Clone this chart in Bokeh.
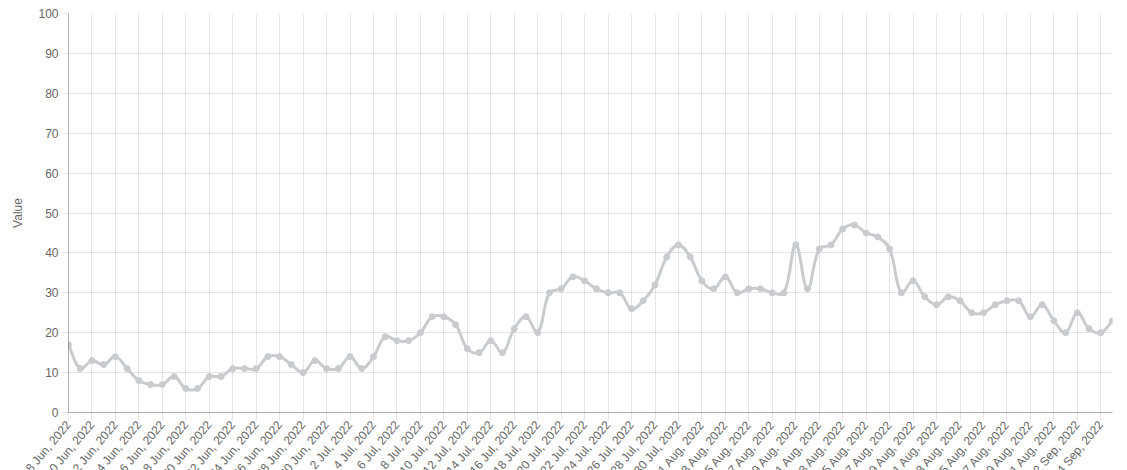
import math
import pandas as pd
from bokeh.plotting import figure
from bokeh.models import ColumnDataSource, FixedTicker, Legend, LegendItem
from bokeh.embed import file_html
from bokeh.resources import INLINE

# ---------------- data ----------------
start_date = "2022-06-08"
fear_greed = [17, 11, 13, 12, 14, 11, 8, 7, 7, 9, 6, 6, 9, 9, 11, 11, 11, 14, 14, 12,
              10, 13, 11, 11, 14, 11, 14, 19, 18, 18, 20, 24, 24, 22, 16, 15, 18, 15, 21, 24,
              20, 30, 31, 34, 33, 31, 30, 30, 26, 28, 32, 39, 42, 39, 33, 31, 34, 30, 31, 31,
              30, 30, 42, 31, 41, 42, 46, 47, 45, 44, 41, 30, 33, 29, 27, 29, 28, 25, 25, 27,
              28, 28, 24, 27, 23, 20, 25, 21, 20, 23]
dates = pd.date_range(start_date, periods=len(fear_greed), freq="D")
date_labels = [f"{d.day} {d.strftime('%b')}, {d.year}" for d in dates]
y_ticks = list(range(0, 101, 10))
series_name = "Crypto Fear & Greed Index"
y_title = "Value"

# ---------------- style ----------------
FONT = "Liberation Sans"
TXT = "#666666"
GRID = "rgba(0,0,0,0.1)"
AXIS = "rgba(0,0,0,0.3)"
LINE = "rgb(201,203,207)"
TENSION = 0.4

n = len(fear_greed)
xs = list(range(n))

p = figure(width=1119, height=489, output_backend="svg", toolbar_location=None, title=None,
           x_range=(0, n - 1), y_range=(0, 100),
           min_border_left=68, min_border_right=7, min_border_top=13, min_border_bottom=20)
p.outline_line_color = None
p.background_fill_color = "white"
p.border_fill_color = "white"

# x axis with rotated date labels
p.xaxis.ticker = FixedTicker(ticks=xs[::2])
p.xaxis.major_label_overrides = {i: date_labels[i] for i in xs}
p.xaxis.major_label_orientation = math.radians(50)
p.xaxis.major_label_text_font = FONT
p.xaxis.major_label_text_font_size = "12px"
p.xaxis.major_label_text_color = TXT
p.xaxis.major_label_standoff = 2
p.xaxis.major_tick_out = 8
p.xaxis.major_tick_in = 0
p.xaxis.major_tick_line_color = GRID
p.xaxis.minor_tick_line_color = None
p.xaxis.axis_line_color = AXIS
p.xgrid.grid_line_color = GRID

# y axis
p.yaxis.ticker = FixedTicker(ticks=y_ticks)
p.yaxis.major_label_text_font = FONT
p.yaxis.major_label_text_font_size = "12px"
p.yaxis.major_label_text_color = TXT
p.yaxis.major_tick_out = 6
p.yaxis.major_tick_in = 0
p.yaxis.major_label_standoff = 4
p.yaxis.major_tick_line_color = GRID
p.yaxis.minor_tick_line_color = None
p.yaxis.axis_line_color = AXIS
p.yaxis.axis_label = y_title
p.yaxis.axis_label_text_font = FONT
p.yaxis.axis_label_text_font_size = "12px"
p.yaxis.axis_label_text_font_style = "normal"
p.yaxis.axis_label_text_color = TXT
p.yaxis.axis_label_standoff = 10
p.ygrid.ticker = FixedTicker(ticks=y_ticks)
p.ygrid.grid_line_color = GRID

# smooth line (Chart.js-like spline, tension 0.4), computed in approx pixel space
SX = 1044 / (n - 1)
SY = 399 / 100
px = [x * SX for x in xs]
py = [v * SY for v in fear_greed]
cp_prev, cp_next = [], []
for i in range(n):
    a = max(i - 1, 0)
    b = min(i + 1, n - 1)
    d01 = math.hypot(px[i] - px[a], py[i] - py[a])
    d12 = math.hypot(px[b] - px[i], py[b] - py[i])
    tot = d01 + d12
    s01 = d01 / tot if tot else 0
    s12 = d12 / tot if tot else 0
    fa, fb = TENSION * s01, TENSION * s12
    dx, dy = px[b] - px[a], py[b] - py[a]
    cp_prev.append((px[i] - fa * dx, py[i] - fa * dy))
    cp_next.append((px[i] + fb * dx, py[i] + fb * dy))

bz = dict(x0=xs[:-1], y0=fear_greed[:-1], x1=xs[1:], y1=fear_greed[1:],
          cx0=[cp_next[i][0] / SX for i in range(n - 1)],
          cy0=[cp_next[i][1] / SY for i in range(n - 1)],
          cx1=[cp_prev[i + 1][0] / SX for i in range(n - 1)],
          cy1=[cp_prev[i + 1][1] / SY for i in range(n - 1)])
p.bezier(x0="x0", y0="y0", x1="x1", y1="y1", cx0="cx0", cy0="cy0", cx1="cx1", cy1="cy1",
         source=ColumnDataSource(bz), line_color=LINE, line_width=3, line_cap="round")
p.scatter(xs, fear_greed, size=6, fill_color=LINE, line_color=LINE, line_width=1)

# legend at the very top (mostly beyond the visible top edge, as in the reference)
r_box = p.quad(left=[], right=[], top=[], bottom=[], fill_color=LINE, line_color=LINE)
legend = Legend(items=[LegendItem(label=series_name, renderers=[r_box])],
                location=(400, 406), orientation="horizontal",
                glyph_width=40, glyph_height=12, label_height=12, label_standoff=6,
                padding=0, margin=0, border_line_alpha=0, background_fill_alpha=0,
                label_text_font=FONT, label_text_font_size="12px", label_text_color=TXT)
p.add_layout(legend, "center")

open("out.html", "w").write(file_html(p, INLINE))
